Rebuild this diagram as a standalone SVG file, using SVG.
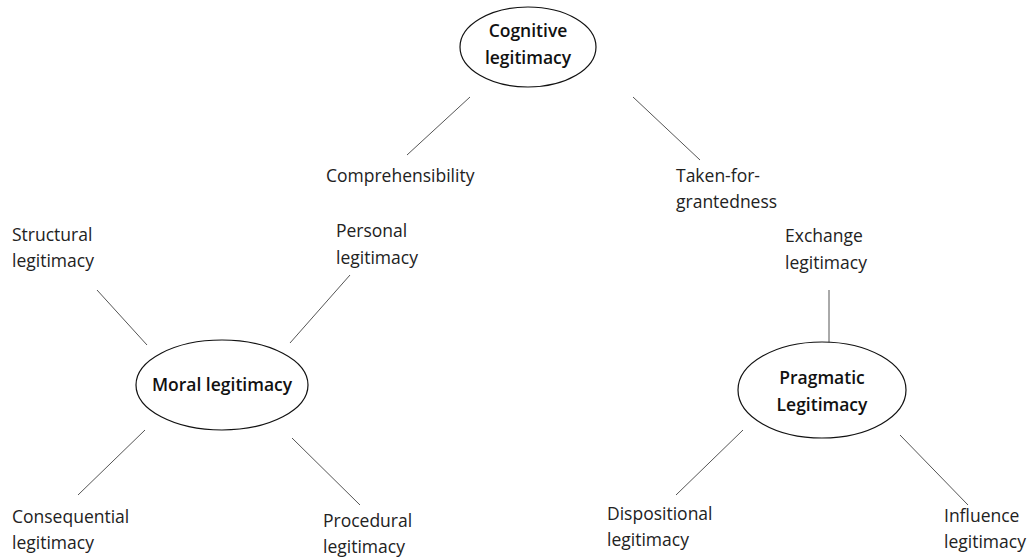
<svg xmlns="http://www.w3.org/2000/svg" width="1033" height="558" viewBox="0 0 1033 558">
<style>
text{font-family:"Open Sans","Liberation Sans",sans-serif;font-size:17.5px;fill:#222}
.n text{text-anchor:middle;font-weight:600;fill:#111}
ellipse{fill:#fff;stroke:#111;stroke-width:1.2}
line{stroke:#555;stroke-width:1}
</style>
<rect width="1033" height="558" fill="#fff"/>
<g id="connectors">
<line x1="470" y1="97" x2="407" y2="155"/>
<line x1="633" y1="97" x2="700" y2="160"/>
<line x1="97" y1="290" x2="147" y2="345"/>
<line x1="350" y1="275" x2="290" y2="343"/>
<line x1="145" y1="430" x2="78" y2="495"/>
<line x1="292" y1="438" x2="360" y2="505"/>
<line x1="829" y1="290" x2="829" y2="350"/>
<line x1="743" y1="430" x2="676" y2="495"/>
<line x1="900" y1="435" x2="968" y2="505"/>
</g>
<g id="cognitive" class="n"><ellipse cx="528" cy="47" rx="68" ry="40"/><text x="528" y="37">Cognitive</text><text x="528" y="64">legitimacy</text></g>
<g id="moral" class="n"><ellipse cx="222" cy="385" rx="86" ry="45"/><text x="222" y="391">Moral legitimacy</text></g>
<g id="pragmatic" class="n"><ellipse cx="822" cy="390" rx="84" ry="48"/><text x="822" y="384">Pragmatic</text><text x="822" y="411">Legitimacy</text></g>
<g id="comprehensibility"><text x="326" y="182">Comprehensibility</text></g>
<g id="taken"><text x="676" y="182">Taken-for-</text><text x="676" y="208">grantedness</text></g>
<g id="structural"><text x="12" y="241">Structural</text><text x="12" y="267">legitimacy</text></g>
<g id="personal"><text x="336" y="237">Personal</text><text x="336" y="264">legitimacy</text></g>
<g id="exchange"><text x="785" y="242">Exchange</text><text x="785" y="269">legitimacy</text></g>
<g id="consequential"><text x="12" y="523">Consequential</text><text x="12" y="549">legitimacy</text></g>
<g id="procedural"><text x="323" y="527">Procedural</text><text x="323" y="553">legitimacy</text></g>
<g id="dispositional"><text x="607" y="520">Dispositional</text><text x="607" y="546">legitimacy</text></g>
<g id="influence"><text x="944" y="522">Influence</text><text x="944" y="548">legitimacy</text></g>
</svg>
